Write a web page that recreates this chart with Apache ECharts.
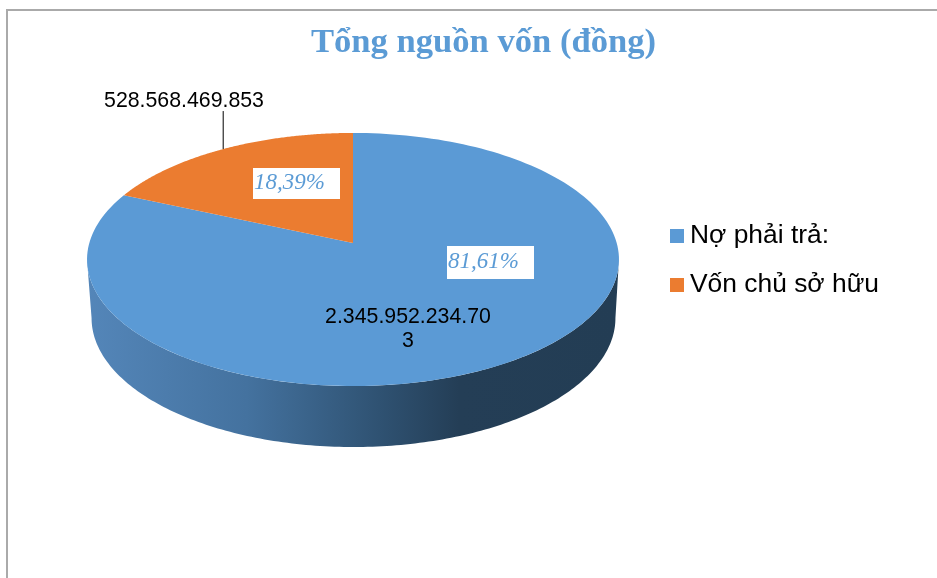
<!DOCTYPE html>
<html>
<head>
<meta charset="utf-8">
<title>Tổng nguồn vốn</title>
<style>
  html, body { margin: 0; padding: 0; background: #fff; }
  #chart { width: 937px; height: 578px; }
</style>
<script src="https://cdn.jsdelivr.net/npm/echarts@6/dist/echarts.min.js"></script>
</head>
<body>
<div id="chart"></div>
<script>
var categories = ["Nợ phải trả:", "Vốn chủ sở hữu"];
var values = [2345952234703, 528568469853];
var colors = ["#5b9ad5", "#eb7c30"];
var chartTitle = "Tổng nguồn vốn (đồng)";

// perspective of the tilted disc, fitted to the picture
var top_ = { cx: 353, cy: 243, a: 263.7, b: 124.4 };
var bottom_ = { cx: 353.5, cy: 301.2, a: 259.7, b: 126.8 };
var tilt = 0.1305;

// where the percent boxes and the value labels sit
var percentBox = [
  { x: 447, y: 246, width: 87, height: 33 },
  { x: 253, y: 168, width: 87, height: 31 }
];

var total = values.reduce(function (s, v) { return s + v; }, 0);

function project(disc, angle) {
  var u = Math.sin(angle);
  var v = Math.cos(angle);
  var w = 1 + tilt * v;
  return [disc.cx + disc.a * u / w, disc.cy - disc.b * v / w];
}

function arc(disc, from, to) {
  var pts = [];
  var steps = 180;
  for (var i = 0; i <= steps; i++) {
    pts.push(project(disc, from + (to - from) * i / steps));
  }
  return pts;
}

function dotted(n) {
  return String(n).replace(/\B(?=(\d{3})+(?!\d))/g, ".");
}

function startAngle(index) {
  var sum = 0;
  for (var i = 0; i < index; i++) sum += values[i];
  return sum / total * Math.PI * 2;
}

function renderSlice(index) {
  var from = startAngle(index);
  var to = from + values[index] / total * Math.PI * 2;
  var mid = (from + to) / 2;
  var children = [];

  // only the front wall shows, and the big slice owns all of it
  if (index === 0) {
    var edge = Math.acos(-tilt);
    var wall = arc(bottom_, edge, Math.PI * 2 - edge)
      .concat(arc(top_, edge, Math.PI * 2 - edge).reverse());
    children.push({
      type: "polygon",
      shape: { points: wall },
      style: {
        fill: {
          type: "linear", global: true, x: 87, y: 0, x2: 619, y2: 0,
          colorStops: [
            { offset: 0, color: "#5486b9" },
            { offset: 0.3, color: "#44729f" },
            { offset: 0.55, color: "#2f5272" },
            { offset: 0.7, color: "#243e56" },
            { offset: 1, color: "#233d54" }
          ]
        }
      }
    });
  }

  var face = [[top_.cx, top_.cy]].concat(arc(top_, from, to));
  children.push({
    type: "polygon",
    shape: { points: face },
    style: { fill: colors[index] }
  });

  var valueStyle = {
    text: dotted(values[index]),
    fill: "#000",
    font: "21.3px 'Liberation Sans', Arial, sans-serif",
    align: "center",
    verticalAlign: "top",
    lineHeight: 24
  };
  if (index === 0) {
    valueStyle.width = 172;
    valueStyle.overflow = "breakAll";
    children.push({ type: "text", x: 408, y: 305, style: valueStyle });
  } else {
    var p = project(top_, mid);
    children.push({
      type: "line",
      shape: { x1: p[0], y1: p[1], x2: p[0], y2: p[1] - 38 },
      style: { stroke: "#000", lineWidth: 1 }
    });
    children.push({ type: "text", x: 184, y: 89, style: valueStyle });
  }

  var box = percentBox[index];
  children.push({ type: "rect", shape: box, style: { fill: "#fff" } });
  children.push({
    type: "text",
    x: box.x + 1,
    y: box.y + box.height / 2 - 1,
    style: {
      text: (values[index] / total * 100).toFixed(2).replace(".", ",") + "%",
      fill: "#5b9bd5",
      font: "italic 23px 'Liberation Serif', serif",
      align: "left",
      verticalAlign: "middle"
    }
  });

  return { type: "group", children: children };
}

var chart = echarts.init(document.getElementById("chart"));
chart.setOption({
  animation: false,
  backgroundColor: "#fff",
  title: {
    text: chartTitle,
    left: 306,
    top: 21,
    textStyle: {
      color: "#5b9bd5",
      fontFamily: "Liberation Serif",
      fontWeight: "bold",
      fontSize: 34.6
    }
  },
  legend: {
    orient: "vertical",
    left: 665,
    top: 218,
    itemWidth: 14,
    itemHeight: 14,
    itemGap: 23,
    icon: "rect",
    selectedMode: false,
    textStyle: {
      color: "#000",
      fontFamily: "Liberation Sans",
      fontSize: 26.4,
      padding: [0, 0, 0, 1]
    },
    data: categories
  },
  graphic: [{
    type: "rect",
    z: -1,
    shape: { x: 7, y: 10, width: 1000, height: 1000 },
    style: { fill: "none", stroke: "#aaaaaa", lineWidth: 2 }
  }],
  series: categories.map(function (name, i) {
    return {
      type: "custom",
      name: name,
      coordinateSystem: "none",
      itemStyle: { color: colors[i] },
      silent: true,
      z: i === 0 ? 2 : 3,
      data: [values[i]],
      renderItem: function () { return renderSlice(i); }
    };
  })
});
</script>
</body>
</html>
